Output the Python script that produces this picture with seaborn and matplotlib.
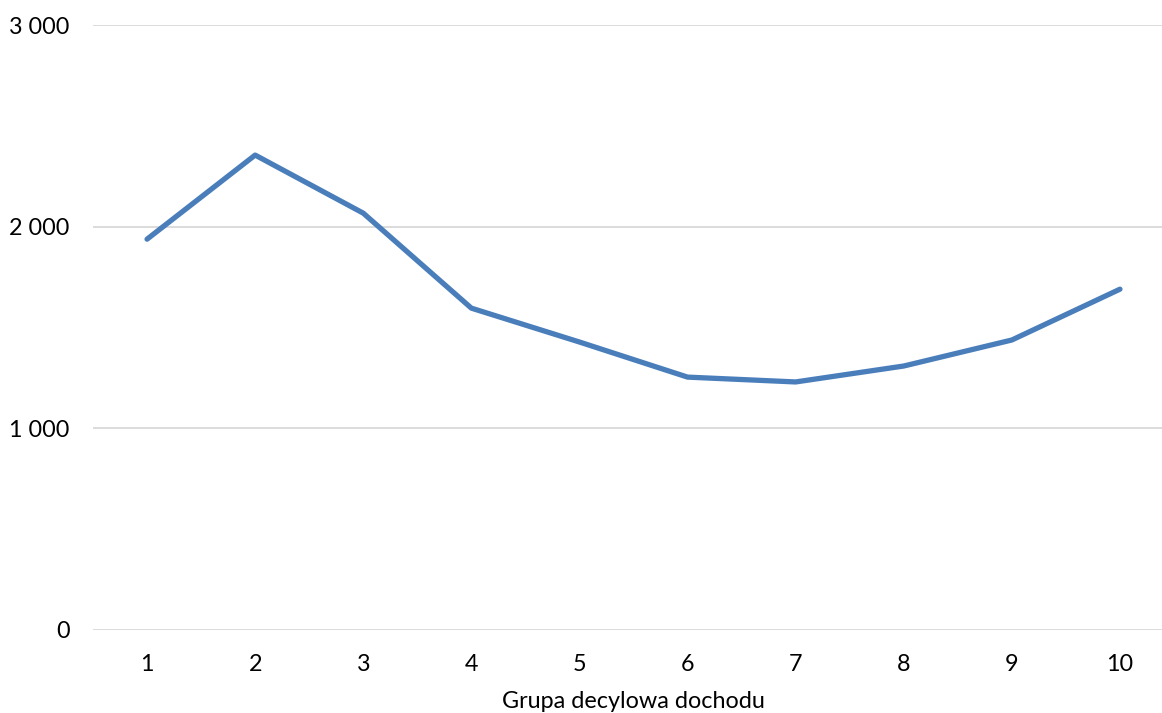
import matplotlib
matplotlib.use("Agg")
import matplotlib.pyplot as plt
import matplotlib.ticker as mticker
import seaborn as sns
import pandas as pd

# Income decile groups and the corresponding values
deciles = [1, 2, 3, 4, 5, 6, 7, 8, 9, 10]
values = [1938, 2355, 2067, 1596, 1428, 1254, 1230, 1309, 1438, 1690]

y_ticks = [0, 1000, 2000, 3000]
x_label = "Grupa decylowa dochodu"

sns.set_theme(style="white")
plt.rcParams["font.family"] = ["Lato", "DejaVu Sans"]

df = pd.DataFrame({"decyl": deciles, "wartosc": values})

fig = plt.figure(figsize=(11.62, 7.13), dpi=100)
ax = fig.add_axes([93 / 1162, 1 - 630 / 713, (1174 - 93) / 1162, (630 - 25) / 713])

sns.lineplot(data=df, x="decyl", y="wartosc", ax=ax, color="#4A7EBB",
             linewidth=3.8, solid_capstyle="round", solid_joinstyle="round",
             clip_on=False)

ax.set_xlim(0.5, 10.5)
ax.set_ylim(0, 3000)
ax.set_xticks(deciles)
ax.set_yticks(y_ticks)
ax.yaxis.set_major_formatter(
    mticker.FuncFormatter(lambda v, _: f"{int(v):,}".replace(",", " ")))

ax.grid(axis="y", color="#D9D9D9", linewidth=1.3)
ax.set_axisbelow(True)
for s in ax.spines.values():
    s.set_visible(False)

ax.tick_params(axis="both", length=0, labelsize=16.8, colors="black")
ax.tick_params(axis="y", pad=17)
ax.tick_params(axis="x", pad=17)
ax.set_xlabel(x_label, fontsize=16.8, color="black", labelpad=12)
ax.set_ylabel("")

fig.savefig("out.png", dpi=100)
